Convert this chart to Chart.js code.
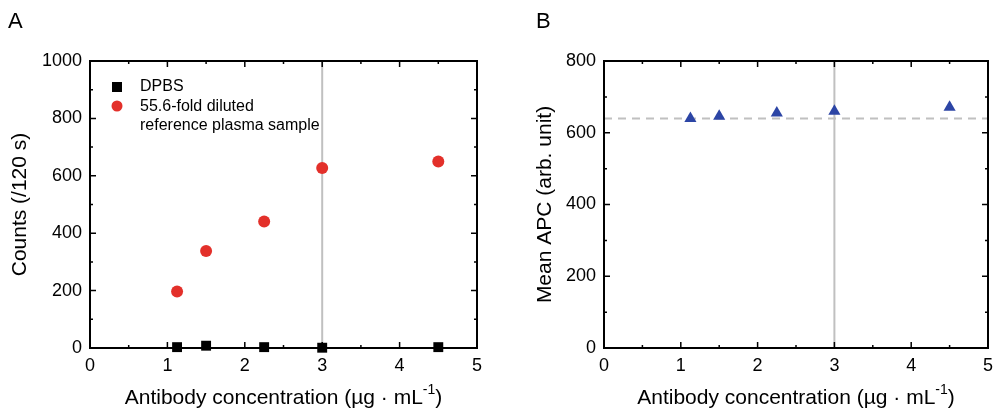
<!DOCTYPE html>
<html>
<head>
<meta charset="utf-8">
<script src="https://cdn.jsdelivr.net/npm/chart.js@4/dist/chart.umd.min.js"></script>
<style>
  body { margin: 0; background: #fff; overflow: hidden; }
  .panel { position: absolute; top: 0; height: 409px; }
  #panelA { left: 0; width: 497px; }
  #panelB { left: 497px; width: 498px; }
</style>
</head>
<body>
<div class="panel" id="panelA"><canvas id="chartA"></canvas></div>
<div class="panel" id="panelB"><canvas id="chartB"></canvas></div>
<script>
// concentrations (µg/mL)
const concentrations = [1.125, 1.5, 2.25, 3, 4.5];
// panel A counts per 120 s
const dpbsCounts = [3, 8, 3, 1, 3];
const plasmaCounts = [197, 338, 441, 627, 650];
// panel B mean APC
const meanAPC = [640, 646, 655, 660, 671];
const apcBaseline = 640;
const markerLine = 3;

const FONT = "'Liberation Sans', Arial, sans-serif";

const toXY = (ys) => concentrations.map((x, i) => ({ x: x, y: ys[i] }));

// frame with inward ticks, vertical marker line, axis titles
const framePlugin = {
  id: "frame",
  beforeDatasetsDraw(chart, args, opts) {
    const ctx = chart.ctx;
    const a = chart.chartArea;
    const xs = chart.scales.x;
    const ys = chart.scales.y;
    ctx.save();
    ctx.strokeStyle = "#c0c0c0";
    ctx.lineWidth = 2;
    const px = xs.getPixelForValue(markerLine);
    ctx.beginPath();
    ctx.moveTo(px, a.top);
    ctx.lineTo(px, a.bottom);
    ctx.stroke();
    if (opts.baseline != null) {
      const py = ys.getPixelForValue(opts.baseline);
      ctx.setLineDash([8, 6]);
      ctx.beginPath();
      ctx.moveTo(a.left, py);
      ctx.lineTo(a.right, py);
      ctx.stroke();
      ctx.setLineDash([]);
    }

    ctx.strokeStyle = "#000";
    ctx.lineWidth = 2;
    ctx.strokeRect(a.left, a.top, a.right - a.left, a.bottom - a.top);
    ctx.lineWidth = 1.5;
    ctx.beginPath();
    for (let v = 0; v <= 5.001; v += 0.5) {
      const p = xs.getPixelForValue(v);
      const len = Math.abs(v - Math.round(v)) < 0.01 ? 6 : 3;
      ctx.moveTo(p, a.bottom); ctx.lineTo(p, a.bottom - len);
      ctx.moveTo(p, a.top); ctx.lineTo(p, a.top + len);
    }
    for (let v = 0; v <= ys.max + 0.1; v += opts.yMinor) {
      const p = ys.getPixelForValue(v);
      const len = Math.round(v / opts.yMinor) % 2 === 0 ? 6 : 3;
      ctx.moveTo(a.left, p); ctx.lineTo(a.left + len, p);
      ctx.moveTo(a.right, p); ctx.lineTo(a.right - len, p);
    }
    ctx.stroke();
    ctx.restore();
  },
  afterDraw(chart, args, opts) {
    const ctx = chart.ctx;
    const a = chart.chartArea;
    ctx.save();
    ctx.fillStyle = "#000";
    // panel letter
    ctx.font = "22px " + FONT;
    ctx.textBaseline = "middle";
    ctx.textAlign = "left";
    ctx.fillText(opts.letter, opts.letterX, 22);

    // x title with superscript
    const cx = (a.left + a.right) / 2;
    const ty = 398;
    ctx.font = "21px " + FONT;
    const main = "Antibody concentration (µg · mL";
    const sup = "-1";
    const tail = ")";
    const wMain = ctx.measureText(main).width;
    const wTail = ctx.measureText(tail).width;
    ctx.font = "14px " + FONT;
    const wSup = ctx.measureText(sup).width;
    const x0 = cx - (wMain + wSup + wTail) / 2;
    ctx.font = "21px " + FONT;
    ctx.fillText(main, x0, ty);
    ctx.font = "14px " + FONT;
    ctx.fillText(sup, x0 + wMain, ty - 8);
    ctx.font = "21px " + FONT;
    ctx.fillText(tail, x0 + wMain + wSup, ty);

    // y title
    ctx.save();
    ctx.translate(opts.yTitleX, (a.top + a.bottom) / 2);
    ctx.rotate(-Math.PI / 2);
    ctx.textAlign = "center";
    ctx.fillText(opts.yTitle, 0, 0);
    ctx.restore();

    // legend
    if (opts.legend) {
      ctx.font = "16px " + FONT;
      ctx.textAlign = "left";
      ctx.fillStyle = "#000";
      ctx.fillRect(112, 82, 10, 10);
      ctx.fillText("DPBS", 140, 87);
      ctx.fillStyle = "#e3302a";
      ctx.beginPath();
      ctx.arc(117, 106, 5.5, 0, Math.PI * 2);
      ctx.fill();
      ctx.fillStyle = "#000";
      ctx.fillText("55.6-fold diluted", 140, 107);
      ctx.fillText("reference plasma sample", 140, 126);
    }
    ctx.restore();
  }
};

function makeScales(yMax, yStep, yWidth) {
  return {
    x: {
      type: "linear", min: 0, max: 5,
      grid: { display: false, drawTicks: false },
      border: { display: false },
      ticks: { stepSize: 1, color: "#000", font: { family: FONT, size: 18 }, padding: 7 },
      afterFit: (s) => { s.height = 61; s.paddingLeft = 0; s.paddingRight = 0; }
    },
    y: {
      type: "linear", min: 0, max: yMax,
      grid: { display: false, drawTicks: false },
      border: { display: false },
      ticks: {
        stepSize: yStep, color: "#000", font: { family: FONT, size: 18 }, padding: 8,
        callback: (v) => String(v)
      },
      afterFit: (s) => { s.width = yWidth; s.paddingTop = 0; s.paddingBottom = 0; }
    }
  };
}

new Chart(document.getElementById("chartA"), {
  type: "scatter",
  data: {
    datasets: [
      {
        label: "DPBS",
        data: toXY(dpbsCounts),
        pointStyle: "rect",
        pointRadius: 7,
        backgroundColor: "#000",
        borderColor: "#000",
        borderWidth: 0,
        clip: false
      },
      {
        label: "55.6-fold diluted reference plasma sample",
        data: toXY(plasmaCounts),
        pointStyle: "circle",
        pointRadius: 6,
        backgroundColor: "#e3302a",
        borderWidth: 0,
        clip: false
      }
    ]
  },
  options: {
    responsive: true,
    maintainAspectRatio: false,
    animation: false,
    layout: { padding: { top: 61, right: 20, left: 0, bottom: 0 } },
    plugins: {
      legend: { display: false },
      tooltip: { enabled: false },
      frame: { letter: "A", letterX: 8, yTitle: "Counts (/120 s)", yTitleX: 20, yMinor: 100, legend: true }
    },
    scales: makeScales(1000, 200, 90)
  },
  plugins: [framePlugin]
});

new Chart(document.getElementById("chartB"), {
  type: "scatter",
  data: {
    datasets: [
      {
        label: "Mean APC",
        data: toXY(meanAPC),
        pointStyle: "triangle",
        pointRadius: 7,
        backgroundColor: "#2c45a5",
        borderWidth: 0,
        clip: false
      }
    ]
  },
  options: {
    responsive: true,
    maintainAspectRatio: false,
    animation: false,
    layout: { padding: { top: 61, right: 3, left: 0, bottom: 0 } },
    plugins: {
      legend: { display: false },
      tooltip: { enabled: false },
      frame: { letter: "B", letterX: 39, yTitle: "Mean APC (arb. unit)", yTitleX: 48, yMinor: 100, baseline: apcBaseline }
    },
    scales: makeScales(800, 200, 107)
  },
  plugins: [framePlugin]
});
</script>
</body>
</html>
